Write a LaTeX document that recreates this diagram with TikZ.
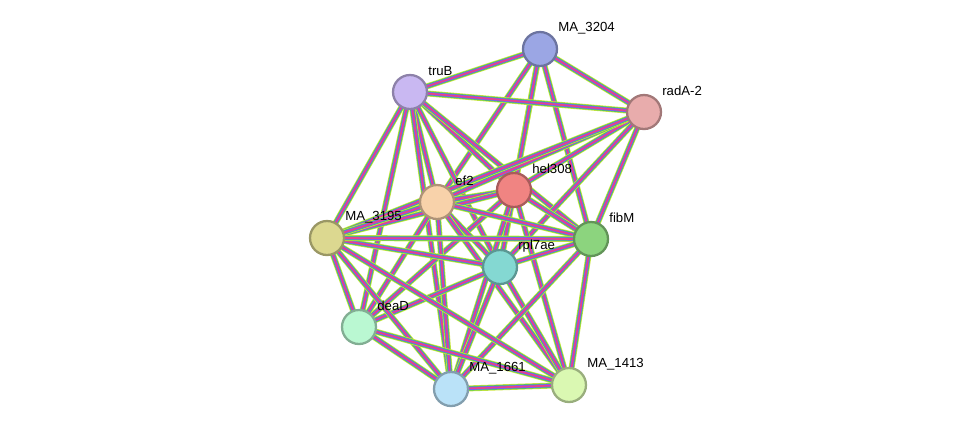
\documentclass[tikz,border=0pt]{standalone}
\usepackage{fontspec}
\setmainfont{Liberation Sans}
\definecolor{cma3204}{HTML}{9BA6E4}
\definecolor{ctrub}{HTML}{C9B8F2}
\definecolor{crada}{HTML}{E8ACAC}
\definecolor{chel}{HTML}{F08482}
\definecolor{cef}{HTML}{F8D2AA}
\definecolor{cma3195}{HTML}{DCD890}
\definecolor{cfibm}{HTML}{8CD47E}
\definecolor{crpl}{HTML}{84D8D2}
\definecolor{cdead}{HTML}{BAF8D2}
\definecolor{cma1661}{HTML}{BAE2F8}
\definecolor{cma1413}{HTML}{DAF8B2}
\begin{document}
\begin{tikzpicture}[x=0.02cm,y=-0.02cm,
    prot/.style={circle,minimum size=0.72cm,inner sep=0pt},
    lab/.style={anchor=west,font=\fontsize{7.5}{8}\selectfont,inner sep=0pt},
    link/.style={preaction={draw,yellow!75!green!80,line width=3.4pt},
                 preaction={draw,white!40!green!80!black,line width=2.6pt},
                 preaction={draw,blue!60!white,line width=1.8pt},
                 draw=magenta!70!purple!80,line width=1pt}]
    \useasboundingbox (0,0) rectangle (975,434);
    % proteins
    \node (ma3204) [prot] at (540,49) {};
    \node (trub) [prot] at (410,92) {};
    \node (rada) [prot] at (644,112) {};
    \node (hel) [prot] at (514,190) {};
    \node (ef) [prot] at (437,202) {};
    \node (ma3195) [prot] at (327,238) {};
    \node (fibm) [prot] at (591,239) {};
    \node (rpl) [prot] at (500,267) {};
    \node (dead) [prot] at (359,327) {};
    \node (ma1661) [prot] at (451,389) {};
    \node (ma1413) [prot] at (569,385) {};

    % associations
    \foreach \a/\b in {ma3204/trub,ma3204/rada,ma3204/hel,ma3204/ef,ma3204/rpl,ma3204/fibm,
        trub/rada,trub/hel,trub/ef,trub/rpl,trub/fibm,trub/ma3195,trub/dead,trub/ma1661,
        rada/hel,rada/ef,rada/rpl,rada/fibm,rada/ma3195,
        hel/ef,hel/rpl,hel/fibm,hel/ma3195,hel/dead,hel/ma1661,hel/ma1413,
        ef/rpl,ef/fibm,ef/ma3195,ef/dead,ef/ma1661,ef/ma1413,
        rpl/fibm,rpl/ma3195,rpl/dead,rpl/ma1661,rpl/ma1413,
        fibm/ma3195,fibm/ma1661,fibm/ma1413,
        ma3195/dead,ma3195/ma1661,ma3195/ma1413,
        dead/ma1661,dead/ma1413,ma1661/ma1413}
      \draw[link] (\a.center) -- (\b.center);

    % discs and names on top
    \foreach \n/\t in {ma3204/MA\_3204,trub/truB,rada/radA-2,hel/hel308,ef/ef2,ma3195/MA\_3195,
        fibm/fibM,rpl/rpl7ae,dead/deaD,ma1661/MA\_1661,ma1413/MA\_1413} {
      \draw[fill=c\n,draw=c\n!70!black,line width=1.3pt] (\n.center) circle (0.34cm);
      \node[lab] (l\n) at ([shift={(18,-21)}]\n.center) {\t};
    }
\end{tikzpicture}
\end{document}
